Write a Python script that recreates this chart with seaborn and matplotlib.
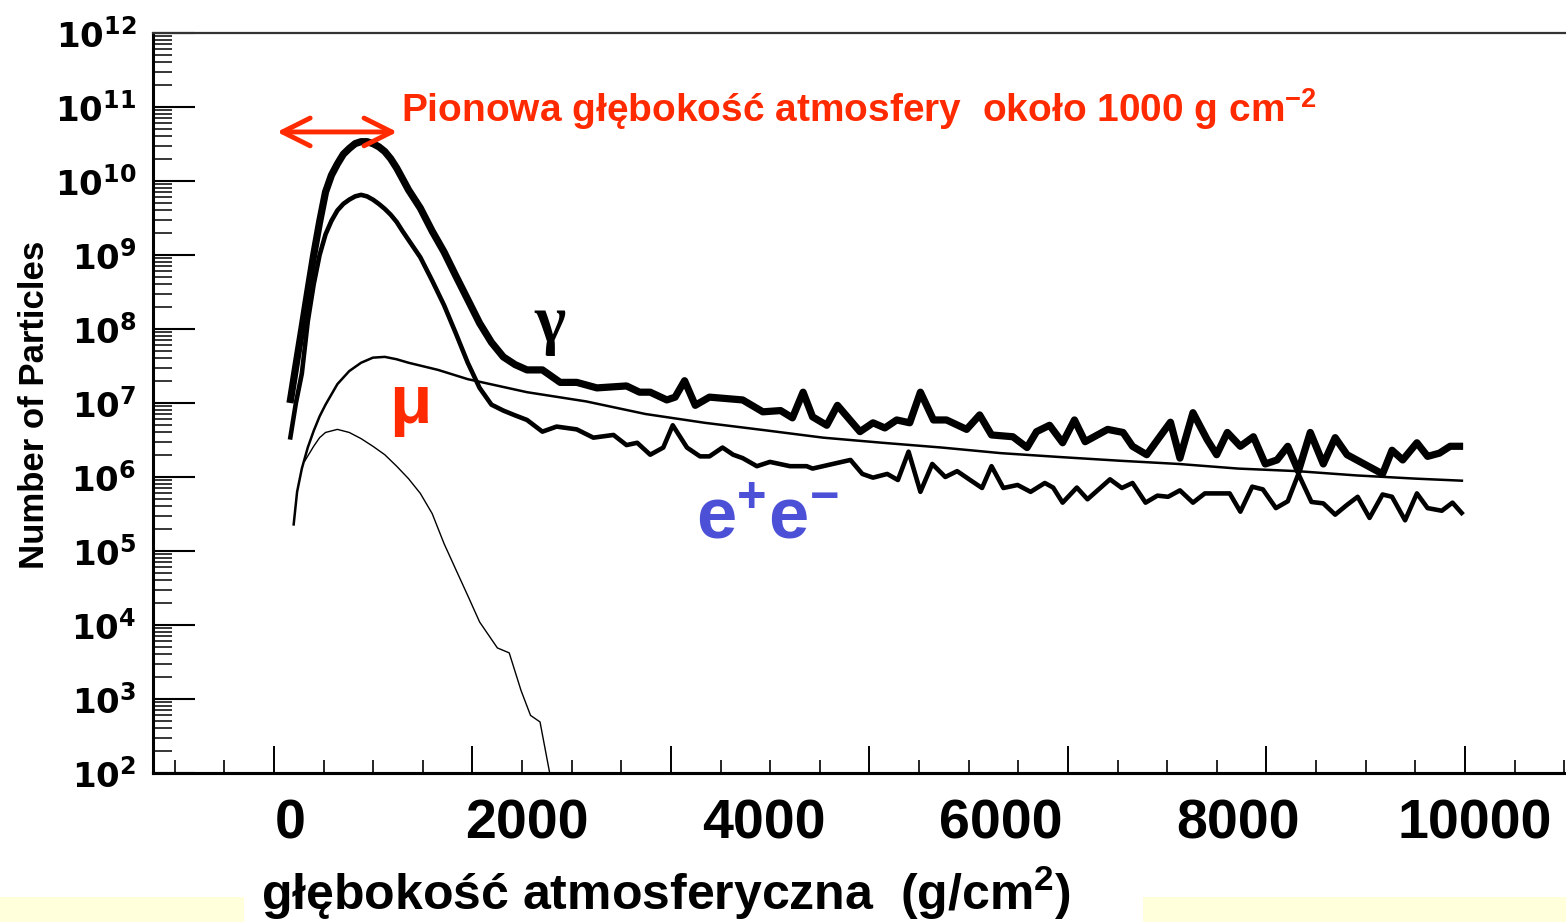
import numpy as np
import pandas as pd
import matplotlib
matplotlib.use("Agg")
import matplotlib.pyplot as plt
from matplotlib.ticker import FixedLocator, LogLocator, FuncFormatter, NullFormatter
from matplotlib.patches import Rectangle
import seaborn as sns

# ---------------- data ----------------
gamma_depth = [0, 50, 100, 150, 200, 250, 300, 350, 400, 450, 500, 550, 600, 650, 700, 750,
               800, 850, 900, 950, 1000, 1100, 1200, 1300, 1400,
               1500, 1600, 1700, 1800, 1900, 2000, 2130, 2280, 2420, 2590, 2840, 2950, 3040,
               3180, 3250, 3330, 3420, 3540, 3820, 3990, 4140, 4240, 4330, 4410, 4530, 4620,
               4810, 4920, 5020, 5120, 5230, 5320, 5430, 5540, 5710, 5820, 5920, 6100, 6220,
               6300, 6410, 6520, 6620, 6710, 6900, 7030, 7110, 7230, 7340, 7430, 7510, 7620,
               7740, 7820, 7910, 8020, 8130, 8230, 8330, 8420, 8510, 8610, 8720, 8820, 8920,
               9220, 9300, 9390, 9510, 9600, 9700, 9790, 9900]
gamma_count = [1.0e7, 3.2e7, 1.0e8, 3.2e8, 1.0e9, 2.8e9, 7.1e9, 1.2e10, 1.7e10, 2.3e10,
               2.75e10, 3.2e10, 3.4e10, 3.4e10, 3.2e10, 2.9e10, 2.5e10, 2.0e10, 1.5e10,
               1.07e10, 7.6e9, 4.3e9, 2.1e9, 1.1e9, 5.2e8, 2.5e8, 1.2e8, 6.6e7, 4.2e7, 3.3e7,
               2.8e7,
               2.8e7, 1.9e7, 1.9e7, 1.6e7, 1.7e7, 1.4e7, 1.4e7, 1.1e7, 1.2e7, 2.0e7, 9.3e6,
               1.2e7, 1.1e7, 7.6e6, 7.9e6, 6.3e6, 1.4e7, 6.5e6, 5.0e6, 9.3e6, 4.1e6, 5.4e6,
               4.6e6, 5.9e6, 5.4e6, 1.4e7, 5.9e6, 5.9e6, 4.4e6, 6.9e6, 3.7e6, 3.5e6, 2.5e6,
               4.1e6, 5.0e6, 2.9e6, 5.9e6, 3.0e6, 4.4e6, 4.0e6, 2.6e6, 2.0e6, 3.5e6, 5.5e6,
               1.8e6, 7.4e6, 3.2e6, 2.0e6, 4.0e6, 2.6e6, 3.5e6, 1.5e6, 1.7e6, 2.6e6, 1.2e6,
               4.0e6, 1.5e6, 3.4e6, 2.0e6, 1.1e6, 2.3e6, 1.7e6, 2.9e6, 1.9e6, 2.1e6, 2.6e6,
               2.6e6]

ee_depth = [0, 50, 100, 150, 200, 250, 300, 350, 400, 450, 500, 550, 600, 650, 700, 750, 800,
            850, 900, 950, 1000, 1100, 1200, 1300, 1400,
            1500, 1600, 1700, 1800, 1900, 2000, 2130, 2250, 2420, 2560, 2730, 2840, 2930,
            3040, 3150, 3230, 3350, 3460, 3540, 3650, 3740, 3820, 3940, 4050, 4220, 4360,
            4410, 4580, 4730, 4830, 4920, 5040, 5130, 5220, 5320, 5420, 5530, 5630, 5740,
            5840, 5920, 6020, 6140, 6250, 6370, 6440, 6520, 6640, 6730, 6920, 7020, 7110,
            7220, 7320, 7410, 7510, 7620, 7720, 7930, 8020, 8120, 8210, 8320, 8420, 8510,
            8620, 8720, 8820, 8920, 9010, 9110, 9220, 9300, 9410, 9510, 9600, 9720, 9810, 9900]
ee_count = [3.2e6, 1.0e7, 2.5e7, 1.26e8, 4.0e8, 1.0e9, 1.9e9, 2.9e9, 4.0e9, 4.9e9, 5.6e9,
            6.2e9, 6.5e9, 6.2e9, 5.6e9, 4.9e9, 4.2e9, 3.5e9, 2.8e9, 2.1e9, 1.6e9,
            9.3e8, 4.5e8, 2.1e8, 8.7e7, 3.5e7, 1.6e7, 9.5e6, 7.9e6, 6.8e6, 5.9e6, 4.1e6,
            4.8e6, 4.4e6, 3.4e6, 3.7e6, 2.7e6, 2.9e6, 2.0e6, 2.5e6, 5.0e6, 2.5e6, 1.9e6,
            1.9e6, 2.5e6, 2.0e6, 1.8e6, 1.4e6, 1.6e6, 1.4e6, 1.4e6, 1.3e6, 1.5e6, 1.7e6,
            1.1e6, 9.8e5, 1.1e6, 9.1e5, 2.2e6, 6.3e5, 1.5e6, 1.0e6, 1.2e6, 9.1e5, 7.1e5,
            1.4e6, 7.1e5, 7.8e5, 6.3e5, 8.3e5, 7.2e5, 4.5e5, 7.2e5, 5.0e5, 9.3e5, 7.1e5,
            8.3e5, 4.5e5, 5.6e5, 5.4e5, 6.6e5, 4.5e5, 6.0e5, 6.0e5, 3.4e5, 7.4e5, 6.8e5,
            3.8e5, 4.7e5, 1.1e6, 4.6e5, 4.4e5, 3.1e5, 4.2e5, 5.4e5, 2.8e5, 5.8e5, 5.4e5,
            2.6e5, 6.0e5, 3.8e5, 3.5e5, 4.5e5, 3.1e5]

mu_depth = [30, 60, 100, 150, 200, 250, 300, 400, 500, 600, 700, 800, 900, 1000, 1250, 1500,
            2000, 2500, 3000, 3500, 4000, 4500, 5000, 5500, 6000, 6500, 7000, 7500, 8000,
            8500, 9000, 9500, 9900]
mu_count = [2.2e5, 6.3e5, 1.3e6, 2.5e6, 4.2e6, 6.6e6, 9.5e6, 1.8e7, 2.7e7, 3.5e7, 4.1e7,
            4.2e7, 3.9e7, 3.5e7, 2.8e7, 2.1e7, 1.4e7, 1.05e7, 7.1e6, 5.4e6, 4.3e6, 3.4e6,
            2.9e6, 2.5e6, 2.1e6, 1.86e6, 1.66e6, 1.5e6, 1.3e6, 1.2e6, 1.05e6, 9.5e5, 8.9e5]

had_depth = [120, 200, 250, 300, 400, 500, 600, 700, 800, 900, 1000, 1100, 1200, 1300, 1400,
             1500, 1600, 1750, 1850, 1950, 2030, 2110, 2250]
had_count = [1.6e6, 2.6e6, 3.4e6, 4.0e6, 4.4e6, 4.0e6, 3.3e6, 2.6e6, 2.0e6, 1.4e6, 9.5e5,
             6.0e5, 3.2e5, 1.26e5, 5.6e4, 2.5e4, 1.1e4, 4.9e3, 4.2e3, 1.3e3, 6.0e2, 4.9e2, 32]

x_tick_values = [0, 2000, 4000, 6000, 8000, 10000]
x_tick_labels = ["0", "2000", "4000", "6000", "8000", "10000"]
root_major_ticks = [-135, 1540, 3215, 4890, 6565, 8240, 9915]
root_minor_ticks = [-135 + 418.75 * k for k in range(-2, 27)]

title_text = "Pionowa głębokość atmosfery  około 1000 g cm$^{-2}$"
xlabel_text = "głębokość atmosferyczna  (g/cm$^{2}$)"
ylabel_text = "Number of Particles"

RED = "#FF2A00"
BLUE = "#4B50D7"

# ---------------- style ----------------
sns.set_theme(style="white")
plt.rcParams["font.family"] = ["Liberation Sans", "DejaVu Sans"]
plt.rcParams["mathtext.fontset"] = "custom"
plt.rcParams["mathtext.rm"] = "Liberation Sans:bold"
plt.rcParams["mathtext.it"] = "Liberation Sans:bold"
plt.rcParams["mathtext.bf"] = "DejaVu Sans:bold"
plt.rcParams["text.color"] = "black"
plt.rcParams["xtick.color"] = "black"
plt.rcParams["ytick.color"] = "black"
plt.rcParams["axes.labelcolor"] = "black"

W, H = 1566, 922
fig = plt.figure(figsize=(W / 100, H / 100), dpi=100)
fig.patch.set_facecolor("white")
ax = fig.add_axes([153 / W, 1 - 773 / H, (W - 153) / W, (773 - 33) / H])
ax.set_facecolor("white")

series = [
    (gamma_depth, gamma_count, 5.2),
    (ee_depth, ee_count, 3.3),
    (mu_depth, mu_count, 1.8),
    (had_depth, had_count, 1.0),
]
for d, c, lw in series:
    df = pd.DataFrame({"depth": d, "count": c})
    sns.lineplot(data=df, x="depth", y="count", ax=ax, color="black", lw=lw,
                 estimator=None, sort=False, legend=False,
                 solid_joinstyle="round", solid_capstyle="butt")

ax.set_yscale("log")
ax.set_ylim(1e2, 1e12)
ax.set_xlim(-1156, 10768)

# y axis
ax.yaxis.set_major_locator(LogLocator(base=10, numticks=20))
ax.yaxis.set_minor_locator(LogLocator(base=10, subs=np.arange(2, 10), numticks=20))
ax.yaxis.set_major_formatter(FuncFormatter(lambda v, p: r"$\mathbf{10^{%d}}$" % round(np.log10(v))))
ax.yaxis.set_minor_formatter(NullFormatter())
ax.tick_params(axis="y", which="major", direction="in", length=30, width=1.5,
               labelsize=24.5, pad=12, color="black", labelcolor="black", left=True)
ax.tick_params(axis="y", which="minor", direction="in", length=13.5, width=1.1,
               color="black", left=True)

# x axis labels (slide numbers)
ax.set_xticks(x_tick_values)
ax.set_xticklabels(x_tick_labels, fontsize=40, fontweight="bold")
ax.tick_params(axis="x", which="major", length=0, pad=18, bottom=True, labelcolor="black")
ax.xaxis.set_minor_locator(FixedLocator([]))

# ROOT style ticks
secx = ax.secondary_xaxis("bottom")
secx.set_xticks(root_major_ticks)
secx.xaxis.set_minor_locator(FixedLocator(root_minor_ticks))
secx.tick_params(axis="x", which="major", direction="in", length=19.5, width=1.4,
                 labelbottom=False, color="black", bottom=True)
secx.tick_params(axis="x", which="minor", direction="in", length=9.5, width=1.2,
                 color="black", bottom=True)
secx.spines["bottom"].set_linewidth(2.2)
secx.spines["bottom"].set_color("black")

for s in ["left", "bottom"]:
    ax.spines[s].set_linewidth(2.2)
    ax.spines[s].set_color("black")
ax.spines["top"].set_linewidth(1.6)
ax.spines["top"].set_color("#333333")
ax.spines["right"].set_visible(False)

# axis labels
ax.set_xlabel(xlabel_text, fontsize=36, fontweight="bold", color="black")
ax.xaxis.label.set_va("center")
ax.xaxis.set_label_coords((666 - 153) / (W - 153), (773 - 893) / 740)
ax.set_ylabel(ylabel_text, fontsize=25, fontweight="bold", color="black")
ax.yaxis.label.set_va("center")
ax.yaxis.set_label_coords((35 - 153) / (W - 153), (773 - 405) / 740)

# annotations
ax.annotate("", xy=(-110, 4.6e10), xytext=(905, 4.6e10),
            arrowprops=dict(arrowstyle="<->,head_length=2.0,head_width=1.0",
                            color=RED, lw=3.5, shrinkA=0, shrinkB=0, mutation_scale=10))
ax.text(940, 9.3e10, title_text, color=RED, fontsize=28, fontweight="bold",
        ha="left", va="center")
ax.text(2194, 1.1e8, "γ", fontsize=48, family=["Liberation Serif", "DejaVu Serif"],
        fontweight="bold", color="black", ha="center", va="center")
ax.text(1013, 9.3e6, "μ", fontsize=50, fontweight="bold", color=RED,
        ha="center", va="center")
ax.text(4025, 2.6e5, r"$\mathrm{e^{+}e^{-}}$", fontsize=52, color=BLUE,
        ha="center", va="center")

# slide background strips
fig.add_artist(Rectangle((0, 0), 244 / W, 25 / H, transform=fig.transFigure,
                         facecolor="#FFFFDC", edgecolor="none", zorder=0))
fig.add_artist(Rectangle((1143 / W, 0), (W - 1143) / W, 25 / H, transform=fig.transFigure,
                         facecolor="#FFFFDC", edgecolor="none", zorder=0))

fig.savefig("out.png", dpi=100)
